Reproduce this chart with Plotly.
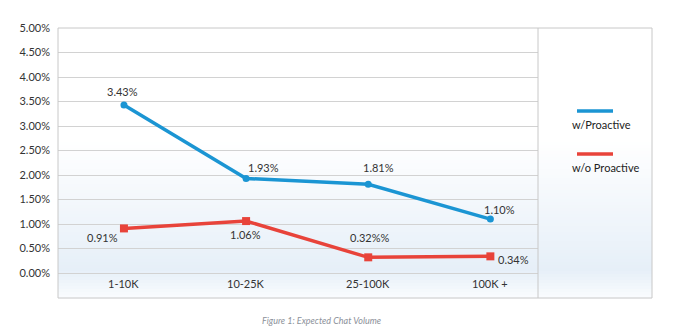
import plotly.graph_objects as go

# Expected chat volume by site traffic band
categories = ["1-10K", "10-25K", "25-100K", "100K +"]
with_proactive = [3.43, 1.93, 1.81, 1.10]
without_proactive = [0.91, 1.06, 0.32, 0.34]
series_names = ["w/Proactive", "w/o Proactive"]
y_ticks = [0.0, 0.5, 1.0, 1.5, 2.0, 2.5, 3.0, 3.5, 4.0, 4.5, 5.0]
caption = "Figure 1: Expected Chat Volume"

BLUE = "#1b95d3"
RED = "#e8433a"
GRID = "#d2d2d2"
TEXT = "#333333"
FONT = "Lato"

x_idx = list(range(len(categories)))

blue_labels = [f"{v:.2f}%" for v in with_proactive]
red_labels = [f"{v:.2f}%" for v in without_proactive]
red_labels[2] = red_labels[2] + "%"

# pixel offsets of each value label relative to its point
blue_shift = [(-1, 13), (17, 11), (10, 17), (9, 10)]
red_shift = [(-21, -9), (-1, -13), (2, 20), (23, -3)]

fig = go.Figure()
fig.add_trace(go.Scatter(
    x=x_idx, y=with_proactive, mode="lines+markers", name=series_names[0],
    line=dict(color=BLUE, width=3.5),
    marker=dict(symbol="circle", size=7, color=BLUE),
    hoverinfo="skip",
))
fig.add_trace(go.Scatter(
    x=x_idx, y=without_proactive, mode="lines+markers", name=series_names[1],
    line=dict(color=RED, width=3.5),
    marker=dict(symbol="square", size=8, color=RED),
    hoverinfo="skip",
))

annotations = []
for i, v in enumerate(with_proactive):
    annotations.append(dict(x=i, y=v, xref="x", yref="y", text=blue_labels[i],
                            showarrow=False, xshift=blue_shift[i][0], yshift=blue_shift[i][1],
                            font=dict(family=FONT, size=11, color=TEXT)))
for i, v in enumerate(without_proactive):
    annotations.append(dict(x=i, y=v, xref="x", yref="y", text=red_labels[i],
                            showarrow=False, xshift=red_shift[i][0], yshift=red_shift[i][1],
                            font=dict(family=FONT, size=11, color=TEXT)))
# category labels sit inside the frame, below the zero line
for i, c in enumerate(categories):
    annotations.append(dict(x=i, y=-0.21, xref="x", yref="y", text=c, showarrow=False,
                            font=dict(family=FONT, size=11, color=TEXT)))
# legend entries: swatch line above text
legend_text_y = [1 - (124 - 28) / 270, 1 - (167 - 28) / 270]
for name, ty in zip(series_names, legend_text_y):
    annotations.append(dict(x=(570 - 58) / 594, y=ty, xref="paper", yref="paper", text=name,
                            showarrow=False, xanchor="left", yanchor="middle",
                            font=dict(family=FONT, size=11, color="#222222")))
annotations.append(dict(x=(321 - 58) / 594, y=-(320 - 298) / 270, xref="paper", yref="paper",
                        text=f"<i>{caption}</i>", showarrow=False, yanchor="middle",
                        font=dict(family=FONT, size=9, color="#8c919a")))

shapes = []
# vertical gradient backdrop: white on top, pale blue near the base
H0, H1 = 28, 298
n = 90
def bg_color(py):
    if py <= 140:
        return (255, 255, 255)
    if py <= 270:
        t = (py - 140) / 130
        a, b = (255, 255, 255), (230, 239, 248)
    else:
        t = (py - 270) / 28
        a, b = (230, 239, 248), (250, 252, 254)
    return tuple(round(a[k] + (b[k] - a[k]) * t) for k in range(3))

for k in range(n):
    p0 = H0 + (H1 - H0) * k / n
    p1 = H0 + (H1 - H0) * (k + 1) / n
    r, g, b = bg_color((p0 + p1) / 2)
    shapes.append(dict(type="rect", xref="paper", yref="paper", layer="below",
                       x0=0, x1=1, y0=1 - (p1 - H0) / 270 - 0.002, y1=1 - (p0 - H0) / 270,
                       fillcolor=f"rgb({r},{g},{b})", line=dict(width=0)))

# frame and legend divider
shapes.append(dict(type="rect", xref="paper", yref="paper", x0=0, x1=1, y0=0, y1=1,
                   line=dict(color="#c8c8c8", width=1), layer="above"))
div_x = (538 - 58) / 594
shapes.append(dict(type="line", xref="paper", yref="paper", x0=div_x, x1=div_x, y0=0, y1=1,
                   line=dict(color="#c8c8c8", width=1), layer="above"))
# legend swatches
for color, py in [(BLUE, 111), (RED, 154)]:
    yy = 1 - (py - 28) / 270
    shapes.append(dict(type="line", xref="paper", yref="paper",
                       x0=(577 - 58) / 594, x1=(613 - 58) / 594, y0=yy, y1=yy,
                       line=dict(color=color, width=3.5)))

fig.update_layout(
    width=677, height=334,
    margin=dict(l=58, r=25, t=28, b=36),
    paper_bgcolor="white",
    plot_bgcolor="rgba(0,0,0,0)",
    showlegend=False,
    font=dict(family=FONT, size=11, color=TEXT),
    xaxis=dict(domain=[0, div_x], range=[-0.54, 3.39], showgrid=False, zeroline=False,
               showticklabels=False, showline=False, fixedrange=True),
    yaxis=dict(range=[-0.51, 5.0], tickvals=y_ticks,
               ticktext=[f"{v:.2f}%" for v in y_ticks],
               showgrid=True, gridcolor=GRID, gridwidth=1, zeroline=False,
               showline=False, ticks="", ticklabelstandoff=7,
               tickfont=dict(family=FONT, size=11, color=TEXT), fixedrange=True),
    annotations=annotations,
    shapes=shapes,
)

fig.write_html("out.html")
